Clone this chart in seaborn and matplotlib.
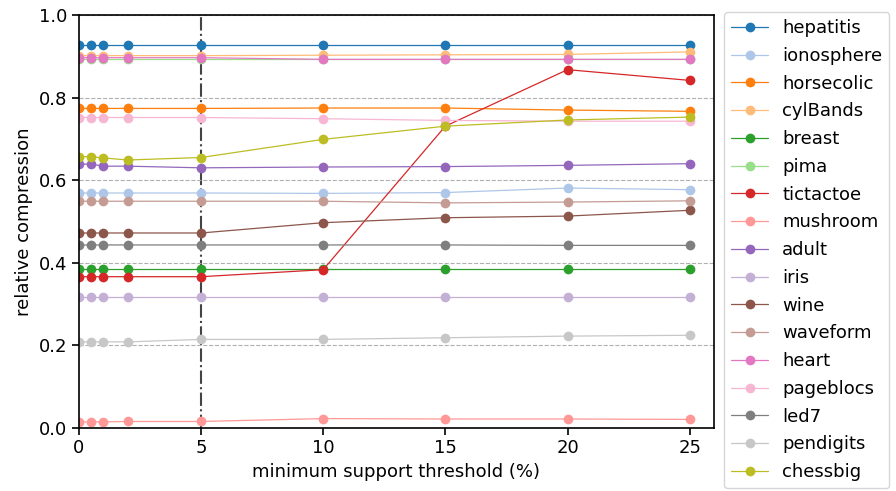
import matplotlib
matplotlib.use("Agg")
import matplotlib.pyplot as plt
import numpy as np
import pandas as pd
import seaborn as sns

# minimum support thresholds (%)
thresholds = [0, 0.5, 1, 2, 5, 10, 15, 20, 25]

datasets = ["hepatitis", "ionosphere", "horsecolic", "cylBands", "breast", "pima",
            "tictactoe", "mushroom", "adult", "iris", "wine", "waveform", "heart",
            "pageblocs", "led7", "pendigits", "chessbig"]

hepatitis = [0.927, 0.927, 0.927, 0.927, 0.927, 0.927, 0.927, 0.927, 0.927]
ionosphere = [0.569, 0.569, 0.569, 0.569, 0.569, 0.568, 0.570, 0.581, 0.577]
horsecolic = [0.774, 0.774, 0.774, 0.774, 0.774, 0.775, 0.775, 0.770, 0.767]
cylBands = [0.902, 0.902, 0.902, 0.902, 0.902, 0.903, 0.904, 0.905, 0.911]
breast = [0.384, 0.384, 0.384, 0.384, 0.384, 0.384, 0.384, 0.384, 0.384]
pima = [0.895, 0.895, 0.895, 0.895, 0.895, 0.895, 0.895, 0.895, 0.895]
tictactoe = [0.366, 0.366, 0.366, 0.366, 0.366, 0.383, 0.731, 0.868, 0.842]
mushroom = [0.014, 0.014, 0.014, 0.015, 0.015, 0.022, 0.021, 0.021, 0.020]
adult = [0.639, 0.639, 0.634, 0.634, 0.630, 0.632, 0.633, 0.636, 0.640]
iris = [0.316, 0.316, 0.316, 0.316, 0.316, 0.316, 0.316, 0.316, 0.316]
wine = [0.472, 0.472, 0.472, 0.472, 0.472, 0.497, 0.509, 0.513, 0.527]
waveform = [0.549, 0.549, 0.549, 0.549, 0.549, 0.549, 0.545, 0.547, 0.550]
heart = [0.897, 0.897, 0.897, 0.897, 0.897, 0.893, 0.893, 0.893, 0.893]
pageblocs = [0.752, 0.752, 0.752, 0.752, 0.752, 0.749, 0.745, 0.743, 0.743]
led7 = [0.443, 0.443, 0.443, 0.443, 0.443, 0.443, 0.443, 0.442, 0.442]
pendigits = [0.208, 0.208, 0.208, 0.208, 0.214, 0.214, 0.218, 0.222, 0.224]
chessbig = [0.657, 0.657, 0.654, 0.649, 0.655, 0.699, 0.731, 0.746, 0.753]

series = [hepatitis, ionosphere, horsecolic, cylBands, breast, pima, tictactoe,
          mushroom, adult, iris, wine, waveform, heart, pageblocs, led7,
          pendigits, chessbig]

rows = []
for name, vals in zip(datasets, series):
    for t, v in zip(thresholds, vals):
        rows.append({"threshold": t, "compression": v, "dataset": name})
df = pd.DataFrame(rows)

sns.set_style("ticks")
plt.rcParams["font.family"] = ["DejaVu Sans"]
plt.rcParams.update({
    "font.size": 13,
    "text.color": "black",
    "axes.labelcolor": "black",
    "xtick.color": "black",
    "ytick.color": "black",
})

fig = plt.figure(figsize=(8.96, 4.91), dpi=100)
ax = fig.add_axes([0.088, 0.129, 0.709, 0.840])

palette = sns.color_palette("tab20", len(datasets))
sns.lineplot(data=df, x="threshold", y="compression", hue="dataset",
             hue_order=datasets, palette=palette, marker="o", markersize=7,
             markeredgewidth=0, linewidth=0.9, ax=ax)

ax.axvline(5, color="#444444", linestyle="-.", linewidth=1.5, zorder=0)
ax.yaxis.grid(True, linestyle="--", color="#b0b0b0", linewidth=0.8)
ax.set_axisbelow(True)

ax.set_xlim(0, 26)
ax.set_ylim(0, 1.0)
ax.set_xticks([0, 5, 10, 15, 20, 25])
ax.set_yticks([0.0, 0.2, 0.4, 0.6, 0.8, 1.0])
ax.tick_params(labelsize=13, length=5, width=1.2)
ax.set_xlabel("minimum support threshold (%)", fontsize=13)
ax.set_ylabel("relative compression", fontsize=13)
for s in ax.spines.values():
    s.set_color("black")
    s.set_linewidth(1.2)

ax.legend(loc="upper left", bbox_to_anchor=(1.016, 1.008), borderaxespad=0,
          fontsize=13, frameon=True, labelspacing=0.54)

fig.savefig("out.png", dpi=100)
